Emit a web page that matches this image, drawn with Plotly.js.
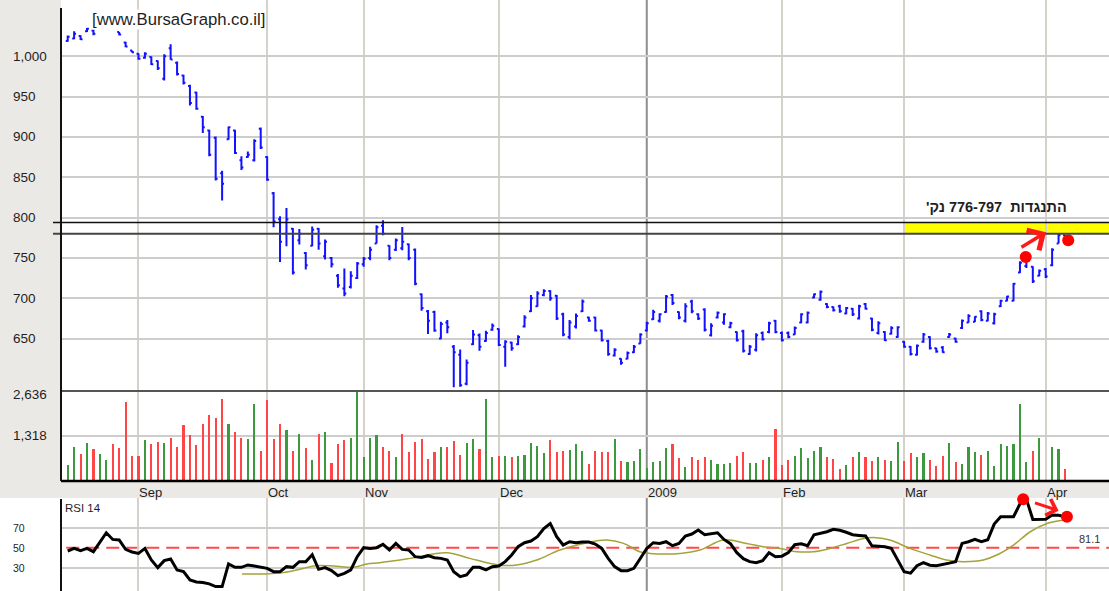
<!DOCTYPE html>
<html><head><meta charset="utf-8">
<script src="https://cdn.plot.ly/plotly-3.0.1.min.js"></script>
<style>html,body{margin:0;padding:0;background:#fff;}#chart{width:1109px;height:591px;}</style>
</head><body><div id="chart"></div>
<script>
// ---------------- data ----------------
const openP = [1019,1022,1025,1031,1032,1036,1041,1047,1030,1017,
1007,1003,998,999,994,972,1010,992,976,963,
955,925,908,899,855,897,908,871,875,871,
910,875,830,798,780,786,772,756,765,786,
752,750,728,712,714,725,742,750,768,790,
765,760,762,767,760,705,684,683,650,670,
640,630,594,643,654,647,661,662,640,645,
643,665,684,690,704,709,703,680,652,665,
684,676,676,660,647,629,625,625,633,644,
660,674,672,683,704,683,672,696,680,686,
654,676,670,664,658,659,631,636,657,658,
672,657,657,655,670,670,701,698,693,689,
690,681,687,675,693,675,657,658,656,652,
646,640,630,646,652,638,639,652,650,663,
670,671,684,672,669,690,697,697,732,740,
739,728,736,741,768,778];
const highP = [1025.6,1031,1026,1035,1033,1042,1050,1048,1030,1018,
1007,1003.7,1005,999.6,994.6,1002.5,1015,993.4,977,964.5,
956,926,909,900.6,858,913,909,876,882,897,
911.7,876,831.7,801.6,811.9,787,785.9,757.4,789,787,
772.7,751,730,737,733.6,745,751,763.7,790.5,796.7,
765.8,774,788.4,767.8,761.6,706,685.3,684.5,671,673,
642,636.6,624,660.6,656.4,659.7,668.8,662.6,648,646,
654,679,703.9,708.8,711,710,704,682,673,681,
698.5,677,677,660.8,648.4,638,625.7,634,642,656.7,
671,685.6,681.4,704,705.4,683.5,693.8,698,681.4,687.6,
669,683.5,681.4,671,658.7,660.8,642,656.7,658.7,671,
673,658.7,658.7,665,681.4,683.5,706,709.5,693.8,689.7,
692,689,688,692,694,675.7,671.6,659,665.4,665.4,
646.9,640.7,642.7,657,653,638.6,640.7,657,651,673.7,
680,677.8,685,682.8,682,698,703,719,745.9,748,
739.7,735.6,737.6,762,780,778.8];
const lowP = [1018,1021,1020,1030,1026,1035,1039,1037,1026,1011,
1004.5,995.5,997,989,983,970,995.5,976,965,939,
933.6,904.7,876,846,821,896.5,878.7,859,874,869.6,
885,845.7,788,745,764.4,729.4,766.5,735.6,764.4,760,
748,738,713,702.6,712,723.7,739,747,767.8,778,
747,758.7,759.6,747,716,684.5,655.6,658.5,649,656.6,
589.6,590.4,592,642,635,646,659.7,640.8,615,635,
642,663.8,683,689.4,702.6,697,673,653,649,662.6,
683,671,658.7,646.4,628.6,627.8,617.5,624.5,632,643.5,
658.7,673,670,682,691.7,674,670,681.4,673,658.7,
652.6,675,667,662.9,646.4,632.8,630,634,647.6,656.7,
656.7,646.4,650.5,654.6,669,669,700,697,687.6,683.5,
682,680,678,673.7,686,659,655,646.9,655,651,
638.6,629,629,644.8,636.6,632.4,632.4,651,644.8,662,
669.6,670.4,671.6,671.6,667.5,689,696.4,696.4,731.4,737.6,
719,727.3,725,739.7,767.7,770.6];
const closeP = [1024,1028,1021,1034,1028,1041,1048,1039,1027,1012,
1005,997,1003,990,985,1000,996,978,967,942,
935,912,878,848,842,912,880,862,878,895,
887,847,795,770,798,732,780,741,785,768,
770,742,716,706,728,743,749,760,788,780,
750,772,770,750,718,688,672,660,668,664,
633,592,620,655,640,657,666,642,646,638,
652,676,700,706,709,700,675,655,670,678,
696,672,660,648,631,636,620,632,640,655,
669,683,680,702,694,676,690,684,675,661,
666,682,680,669,648,635,640,654,649,669,
658,648,652,663,680,682,705,708,689,685,
684,688,680,690,687,661,669,648,663,664,
640,631,641,655,638,634,633,655,646,672,
678,677,673,681,680,697,702,718,744,746,
721,734,727,760,778,772];
const volume = [467,1002,778,1109,924,778,613,1070,963,2315,
730,730,1196,1080,1148,1119,1265,1002,1644,1342,
1041,1683,1945,1858,2393,1683,1449,1265,1226,2247,
885,2383,1216,1683,1488,885,1391,963,613,1372,
1440,516,1070,1187,1265,2772,690,1245,1333,982,
875,690,1372,846,1148,1216,652,846,992,992,
1177,768,1109,1216,924,2412,690,730,730,690,
730,768,1109,1031,807,1187,846,875,914,1070,
885,506,875,846,846,1216,584,554,584,924,
389,545,584,953,1070,661,399,690,623,690,
613,506,496,516,730,856,516,516,613,690,
1517,467,613,730,953,661,875,992,690,652,
350,467,690,846,690,584,690,613,584,1148,
584,807,690,807,613,428,730,1109,545,506,
992,846,768,875,428,1070,1031,1070,2266,545,
885,1255,0,992,924,360];
const volDir = ("ggrgrggrrr"+"rrgrrgrrrr"+"rrrrrgrrgg"+"rrrrgrgrgr"+"grrrgggggr"+
  "rgrrrrrrgr"+"rrggrggrgr"+"gggggrrrgg"+"grrrrgrggg"+"ggggrrgrrr"+
  "ggggrrggrg"+"rrrgggggrr"+"rgrgrrgrgg"+"rrggrrrgrg"+"ggrggggggg"+"rggggr").split("");
const rsi = [46.7,49.3,47,49.3,46,56,65,58.3,57.7,48.3,
45.7,44.3,49.3,37.7,30,37,38.7,27.7,26,17.7,
15.7,15,13.7,11,11,33.7,30.3,30.3,32.7,31.7,
30.3,29.3,26,26,31,30.3,36,36,43,28.3,
30,27,22,24.3,27.7,41,50,49.3,50,53.3,
47.7,54.3,48.3,47.7,41,40.3,42,40,39.3,37.7,
26,21,22.7,30.3,30.3,27.7,31,31.7,36,42.7,
51,55,56.7,61,69.3,74.3,61,52.7,56,55,
55.7,55.7,53.7,49.3,39.3,31,27,27,29.3,39.3,
49.3,55,54.3,56,52,54.3,61.7,63.7,67.7,63,
64.3,65,58.3,54,45,39,36,35,37,45,
41,41.5,45,53,54,52,63,64.5,66,68.5,
67.5,65.5,63,62.3,61.7,52,51.5,51,49.5,38,
26,24.5,32,35,32.5,32,33,34.5,36,54.3,
56,58.3,56,58,73.7,81,81,81,94,98.7,
78.3,78.3,78.5,82.7,82.5,81.1];
// olive moving-average line of the RSI
const rsiMaX = [27.1,30.9,33.5,36.1,38.2,41.3,44.4,46.5,48.5,53.2,58.9,62.5,66.9,69.8,72.9,76.5,80.7,83.8,86.4,88.9,90.5,95.2,98.3,101.9,105.5,108.1,110.7,113.3,115.9,118.5,121.1,123.7,125.2,127.8,130.9,134,136.6,139.2,142.3,144.4,147,149.6,152.2,154.8,155.4];
const rsiMaY = [23.7,23.7,25,28.3,31.7,31.7,30.3,33.7,35,39.3,45,39.3,32.7,32.7,37.7,47.7,55,57.7,54.3,46,44.3,44.3,47.7,57.7,54.3,51,49.3,46,46,49.3,54.3,59.3,60.3,57.7,49.3,42.7,37.7,36,37.7,42.7,52.7,66,74.3,77.7,78.3];
const monthIdx = [11,31,46,67,90,111,130,152];
const monthText = ['Sep','Oct','Nov','Dec','2009','Feb','Mar','Apr'];
const priceTicks = [650,700,750,800,850,900,950,1000];
const priceTickText = ['650','700','750','800','850','900','950','1,000'];
const volTicks = [1318,2636];
const volTickText = ['1,318','2,636'];
const rsiTicks = [30,50,70];
const rsiTickText = ['30','50','70'];
const resistance = [780,794];
const priceMarkX = [148.9,155.5], priceMarkY = [751,772];
const rsiMarkX = [148.5,155.3], rsiMarkY = [98.7,81.1];
const rsiLast = '81.1';

// ---------------- layout helpers ----------------
const FONT = 'Liberation Sans, Arial, Helvetica, sans-serif';
const W = 1109, H = 591, L = 61;
const py = p => 1 - p / H;
const px = p => (p - L) / (W - L);
const idx = openP.map((_, i) => i);
const xRange = [-1.041, 161.84];
const gridTicks = monthIdx.filter((m, k) => monthText[k] !== '2009');
const janIdx = monthIdx[monthText.indexOf('2009')];

const traces = [
  {type:'ohlc', x:idx, open:openP, high:highP, low:lowP, close:closeP, xaxis:'x', yaxis:'y',
   increasing:{line:{color:'#1212ff', width:2}}, decreasing:{line:{color:'#1212ff', width:2}},
   tickwidth:0.3, hoverinfo:'skip', showlegend:false},
  {type:'bar', x:idx, y:volume, xaxis:'x2', yaxis:'y2', width:0.33, cliponaxis:false,
   marker:{color: volDir.map(d => d === 'g' ? '#3c9a3c' : '#ff4545'), line:{width:0}},
   hoverinfo:'skip', showlegend:false},
  {type:'scatter', mode:'lines', x:rsiMaX, y:rsiMaY, xaxis:'x3', yaxis:'y3',
   line:{color:'#a3a33a', width:1.5, shape:'spline'}, hoverinfo:'skip', showlegend:false},
  {type:'scatter', mode:'lines', x:idx, y:rsi, xaxis:'x3', yaxis:'y3',
   line:{color:'#000000', width:3}, hoverinfo:'skip', showlegend:false},
  {type:'scatter', mode:'markers', x:priceMarkX, y:priceMarkY, xaxis:'x', yaxis:'y', cliponaxis:false,
   marker:{color:'#ff0000', size:12}, hoverinfo:'skip', showlegend:false},
  {type:'scatter', mode:'markers', x:rsiMarkX, y:rsiMarkY, xaxis:'x3', yaxis:'y3', cliponaxis:false,
   marker:{color:'#ff0000', size:12}, hoverinfo:'skip', showlegend:false}
];

const xBase = {range:xRange, tickvals:gridTicks, showticklabels:false, ticks:'', showgrid:true,
  gridcolor:'#d5d1cb', gridwidth:2, zeroline:false, showline:false, fixedrange:true};
const yBase = {showticklabels:false, ticks:'', showgrid:true, gridcolor:'#cdcdcd', gridwidth:2,
  zeroline:false, showline:false, fixedrange:true};

const annotations = [];
const tickFont = s => ({family:FONT, size:s, color:'#1e1e1e'});
priceTicks.forEach((v,k) => annotations.push({xref:'paper', x:px(11), xanchor:'left', yref:'y', y:v,
  yanchor:'middle', text:priceTickText[k], showarrow:false, font:tickFont(13.5)}));
volTicks.forEach((v,k) => annotations.push({xref:'paper', x:px(11), xanchor:'left', yref:'y2', y:v,
  yanchor:'middle', yshift: v === 2636 ? -4 : 0, text:volTickText[k], showarrow:false, font:tickFont(13.5)}));
rsiTicks.forEach((v,k) => annotations.push({xref:'paper', x:px(11), xanchor:'left', yref:'y3', y:v,
  yanchor:'middle', text:rsiTickText[k], showarrow:false, font:tickFont(10.5)}));
monthIdx.forEach((m,k) => annotations.push({xref:'x2', x:m, xanchor:'left', xshift:-1, yref:'paper', y:py(492),
  yanchor:'middle', text:monthText[k], showarrow:false, font:tickFont(13)}));
annotations.push(
  {xref:'paper', x:px(91), xanchor:'left', yref:'paper', y:py(19.5), yanchor:'middle',
   text:'[www.BursaGraph.co.il]', showarrow:false, bgcolor:'#ffffff', borderpad:0,
   font:{family:FONT, size:16.7, color:'#1e1e1e'}},
  {xref:'paper', x:px(996), xanchor:'center', yref:'paper', y:py(207), yanchor:'middle',
   text:'<b>\u202Bהתנגדות  776-797 נק\'\u202C</b>', showarrow:false,
   font:{family:FONT, size:14.5, color:'#1e1e1e'}},
  {xref:'paper', x:px(62.5), xanchor:'left', yref:'paper', y:py(507.5), yanchor:'middle',
   text:'RSI 14', showarrow:false, font:tickFont(11.5)},
  {xref:'paper', x:px(1077), xanchor:'left', yref:'y3', y:58.7, yanchor:'middle',
   text:rsiLast, showarrow:false, font:{family:FONT, size:11, color:'#333333'}},
  {xref:'x', yref:'y', x:152.05, y:781.8, axref:'x', ayref:'y', ax:148.0, ay:762,
   text:'', showarrow:true, arrowhead:4, arrowsize:1.3, arrowwidth:3.5, arrowcolor:'#ff1a1a'},
  {xref:'x3', yref:'y3', x:154.0, y:87.1, axref:'x3', ayref:'y3', ax:150.1, ay:95.5,
   text:'', showarrow:true, arrowhead:4, arrowsize:1.1, arrowwidth:3, arrowcolor:'#ff1a1a'}
);

const shapes = [
  // white left margin beside the RSI panel
  {type:'rect', layer:'below', xref:'paper', x0:-0.07, x1:0, yref:'paper', y0:-0.01, y1:py(498),
   fillcolor:'#ffffff', line:{width:0}},
  // resistance zone
  {type:'rect', layer:'below', xref:'x', x0:monthIdx[6], x1:xRange[1], yref:'y', y0:resistance[0], y1:resistance[1],
   fillcolor:'#ffff00', line:{width:0}},
  {type:'line', xref:'paper', x0:px(53), x1:1, yref:'y', y0:resistance[1], y1:resistance[1],
   line:{color:'#111111', width:1.5}},
  {type:'line', xref:'paper', x0:px(53), x1:1, yref:'y', y0:resistance[0], y1:resistance[0],
   line:{color:'#444444', width:2}},
  // darker year line in each panel
  {type:'line', layer:'below', xref:'x', x0:janIdx, x1:janIdx, yref:'y domain', y0:0, y1:1, line:{color:'#8e8e8e', width:2}},
  {type:'line', layer:'below', xref:'x2', x0:janIdx, x1:janIdx, yref:'y2 domain', y0:0, y1:1, line:{color:'#8e8e8e', width:2}},
  {type:'line', layer:'below', xref:'x3', x0:janIdx, x1:janIdx, yref:'y3 domain', y0:0, y1:1, line:{color:'#8e8e8e', width:2}},
  // RSI 50 dashed line
  {type:'line', xref:'paper', x0:0.005, x1:1, yref:'y3', y0:50, y1:50, layer:'below',
   line:{color:'#ff4a4a', width:2, dash:'13px,7px'}},
  // panel borders
  {type:'line', xref:'paper', x0:0, x1:1, yref:'paper', y0:py(391), y1:py(391), line:{color:'#555555', width:2}},
  {type:'line', xref:'paper', x0:0, x1:1, yref:'paper', y0:py(481), y1:py(481), line:{color:'#000000', width:2.5}},
  {type:'line', xref:'paper', x0:0, x1:0, yref:'paper', y0:py(8), y1:py(481), line:{color:'#111111', width:2}},
  {type:'line', xref:'paper', x0:0, x1:0, yref:'paper', y0:0, y1:py(499), line:{color:'#111111', width:2}}
];

const layout = {
  width:W, height:H, margin:{l:L, r:0, t:0, b:0}, autosize:false,
  paper_bgcolor:'#ebe9e5', plot_bgcolor:'#ffffff', showlegend:false,
  font:{family:FONT, size:13, color:'#1e1e1e'}, bargap:0,
  xaxis: Object.assign({}, xBase, {anchor:'y', rangeslider:{visible:false}}),
  xaxis2: Object.assign({}, xBase, {anchor:'y2', matches:'x'}),
  xaxis3: Object.assign({}, xBase, {anchor:'y3', matches:'x'}),
  yaxis: Object.assign({}, yBase, {domain:[py(391), 1], range:[585, 1069.7], tickvals:priceTicks}),
  yaxis2: Object.assign({}, yBase, {domain:[py(481), py(391)], range:[0, 2636], tickvals:[volTicks[0]]}),
  yaxis3: Object.assign({}, yBase, {domain:[0, py(498)], range:[6.57, 99.85], tickvals:[30, 70]}),
  annotations, shapes
};

Plotly.newPlot('chart', traces, layout, {staticPlot:true, displayModeBar:false});
</script></body></html>
